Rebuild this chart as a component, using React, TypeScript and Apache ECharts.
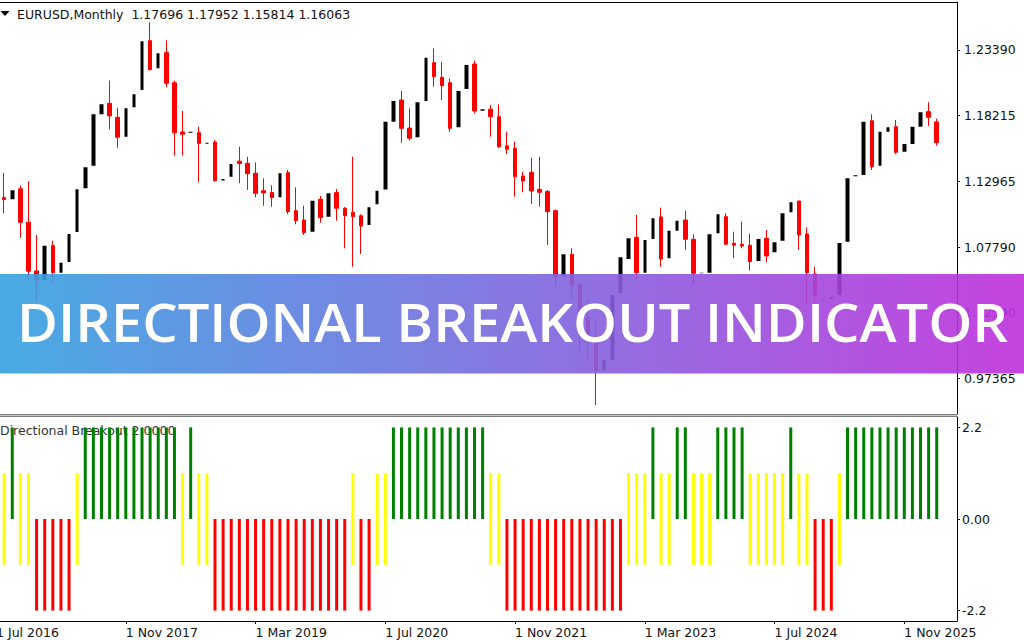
import { useEffect, useRef } from "react";
import * as echarts from "echarts";

const MONTHS = [
  "1 Jul 2016", "1 Aug 2016", "1 Sep 2016", "1 Oct 2016", "1 Nov 2016", "1 Dec 2016",
  "1 Jan 2017", "1 Feb 2017", "1 Mar 2017", "1 Apr 2017", "1 May 2017", "1 Jun 2017", "1 Jul 2017", "1 Aug 2017", "1 Sep 2017", "1 Oct 2017", "1 Nov 2017", "1 Dec 2017",
  "1 Jan 2018", "1 Feb 2018", "1 Mar 2018", "1 Apr 2018", "1 May 2018", "1 Jun 2018", "1 Jul 2018", "1 Aug 2018", "1 Sep 2018", "1 Oct 2018", "1 Nov 2018", "1 Dec 2018",
  "1 Jan 2019", "1 Feb 2019", "1 Mar 2019", "1 Apr 2019", "1 May 2019", "1 Jun 2019", "1 Jul 2019", "1 Aug 2019", "1 Sep 2019", "1 Oct 2019", "1 Nov 2019", "1 Dec 2019",
  "1 Jan 2020", "1 Feb 2020", "1 Mar 2020", "1 Apr 2020", "1 May 2020", "1 Jun 2020", "1 Jul 2020", "1 Aug 2020", "1 Sep 2020", "1 Oct 2020", "1 Nov 2020", "1 Dec 2020",
  "1 Jan 2021", "1 Feb 2021", "1 Mar 2021", "1 Apr 2021", "1 May 2021", "1 Jun 2021", "1 Jul 2021", "1 Aug 2021", "1 Sep 2021", "1 Oct 2021", "1 Nov 2021", "1 Dec 2021",
  "1 Jan 2022", "1 Feb 2022", "1 Mar 2022", "1 Apr 2022", "1 May 2022", "1 Jun 2022", "1 Jul 2022", "1 Aug 2022", "1 Sep 2022", "1 Oct 2022", "1 Nov 2022", "1 Dec 2022",
  "1 Jan 2023", "1 Feb 2023", "1 Mar 2023", "1 Apr 2023", "1 May 2023", "1 Jun 2023", "1 Jul 2023", "1 Aug 2023", "1 Sep 2023", "1 Oct 2023", "1 Nov 2023", "1 Dec 2023",
  "1 Jan 2024", "1 Feb 2024", "1 Mar 2024", "1 Apr 2024", "1 May 2024", "1 Jun 2024", "1 Jul 2024", "1 Aug 2024", "1 Sep 2024", "1 Oct 2024", "1 Nov 2024", "1 Dec 2024",
  "1 Jan 2025", "1 Feb 2025", "1 Mar 2025", "1 Apr 2025", "1 May 2025", "1 Jun 2025", "1 Jul 2025", "1 Aug 2025", "1 Sep 2025", "1 Oct 2025", "1 Nov 2025", "1 Dec 2025",
  "1 Jan 2026", "1 Feb 2026", "1 Mar 2026", "1 Apr 2026", "1 May 2026",
];
// number of empty months before the first candle (Jul 2016)
const LEAD = 1;

const OPEN = [
  1.1172, 1.1157, 1.1240, 1.0975, 1.0590, 1.0517, 1.0790, 1.0576, 1.0660, 1.0898, 1.1244, 1.1423, 1.1830, 1.1917, 1.1806, 1.1653, 1.1885,
  1.2023, 1.2413, 1.2194, 1.2318, 1.2080, 1.1690, 1.1684, 1.1684, 1.1596, 1.1610, 1.1305, 1.1336,
  1.1459, 1.1442, 1.1363, 1.1225, 1.1210, 1.1173, 1.1368, 1.1067, 1.0993, 1.0900, 1.1157, 1.1019,
  1.1210, 1.1086, 1.1054, 1.1027, 1.0953, 1.1117, 1.1235, 1.1771, 1.1943, 1.1721, 1.1648, 1.1935,
  1.2239, 1.2123, 1.2080, 1.1727, 1.2030, 1.2228, 1.1858, 1.1870, 1.1811, 1.1580, 1.1561, 1.1342,
  1.1371, 1.1236, 1.1219, 1.1067, 1.0545, 1.0721, 1.0479, 1.0215, 1.0054, 0.9802, 0.9885, 1.0413,
  1.0684, 1.0856, 1.0576, 1.0843, 1.1017, 1.0690, 1.0908, 1.0993, 1.0840, 1.0571, 1.0576, 1.0888,
  1.1019, 1.0809, 1.0801, 1.0793, 1.0668, 1.0848, 1.0737, 1.0829, 1.1054, 1.1143, 1.0882, 1.0566,
  1.0362, 1.0368, 1.0399, 1.0821, 1.1340, 1.1349, 1.1779, 1.1423, 1.1692, 1.1732, 1.1534, 1.1595,
  1.1732, 1.1851, 1.17696,
];
const HIGH = [
  1.1366, 1.1327, 1.1266, 1.1300, 1.0874, 1.0830, 1.0829, 1.0906, 1.0950, 1.1268, 1.1445, 1.1840, 1.2070, 1.2096, 1.1882, 1.1961, 1.2023,
  1.2537, 1.2558, 1.2476, 1.2416, 1.2097, 1.1856, 1.1791, 1.1732, 1.1815, 1.1625, 1.1500, 1.1486,
  1.1573, 1.1494, 1.1450, 1.1323, 1.1268, 1.1412, 1.1389, 1.1252, 1.1106, 1.1179, 1.1183, 1.1239,
  1.1239, 1.1095, 1.1494, 1.1038, 1.1147, 1.1422, 1.1908, 1.1966, 1.2017, 1.1877, 1.2003, 1.2310,
  1.2352, 1.2247, 1.2114, 1.2150, 1.2266, 1.2254, 1.1909, 1.1904, 1.1909, 1.1692, 1.1613, 1.1374,
  1.1486, 1.1494, 1.1230, 1.1076, 1.0786, 1.0769, 1.0486, 1.0367, 1.0198, 1.0094, 1.0497, 1.0736,
  1.0929, 1.1033, 1.0930, 1.1095, 1.1091, 1.1012, 1.1276, 1.1067, 1.0880, 1.0695, 1.1017, 1.1140,
  1.1046, 1.0900, 1.0980, 1.0885, 1.0895, 1.0914, 1.0948, 1.1202, 1.1214, 1.1145, 1.0935, 1.0623,
  1.0533, 1.0528, 1.0955, 1.1573, 1.1418, 1.1830, 1.1830, 1.1743, 1.1918, 1.1785, 1.1655, 1.1808,
  1.1900, 1.1925, 1.17952,
];
const LOW = [
  1.1046, 1.1123, 1.0851, 1.0518, 1.0346, 1.0340, 1.0493, 1.0494, 1.0570, 1.0838, 1.1118, 1.1312, 1.1662, 1.1711, 1.1565, 1.1554, 1.1717,
  1.1915, 1.2178, 1.2155, 1.2044, 1.1502, 1.1502, 1.1576, 1.1292, 1.1525, 1.1295, 1.1215, 1.1267,
  1.1284, 1.1231, 1.1173, 1.1106, 1.1098, 1.1160, 1.1040, 1.0959, 1.0874, 1.0879, 1.0972, 1.0981,
  1.0988, 1.0769, 1.0623, 1.0724, 1.0767, 1.1096, 1.1185, 1.1696, 1.1605, 1.1622, 1.1603, 1.1925,
  1.2048, 1.1943, 1.1692, 1.1704, 1.1986, 1.1838, 1.1752, 1.1653, 1.1563, 1.1516, 1.1178, 1.1213,
  1.1120, 1.1098, 1.0795, 1.0471, 1.0349, 1.0359, 0.9952, 0.9890, 0.9528, 0.9632, 0.9730, 1.0393,
  1.0483, 1.0524, 1.0516, 1.0788, 1.0623, 1.0662, 1.0834, 1.0756, 1.0478, 1.0448, 1.0517, 1.0724,
  1.0795, 1.0690, 1.0769, 1.0592, 1.0650, 1.0658, 1.0709, 1.0777, 1.0999, 1.0756, 1.0328, 1.0339,
  1.0177, 1.0141, 1.0360, 1.0778, 1.1065, 1.1210, 1.1389, 1.1391, 1.1646, 1.1516, 1.1491, 1.1590,
  1.1700, 1.1737, 1.15814,
];
const CLOSE = [
  1.1155, 1.1228, 1.0975, 1.0588, 1.0517, 1.0790, 1.0576, 1.0655, 1.0882, 1.1236, 1.1410, 1.1830, 1.1909, 1.1817, 1.1648, 1.1877, 1.1988,
  1.2408, 1.2183, 1.2313, 1.2075, 1.1684, 1.1672, 1.1692, 1.1600, 1.1604, 1.1305, 1.1318, 1.1436,
  1.1440, 1.1360, 1.1204, 1.1207, 1.1170, 1.1363, 1.1059, 1.0987, 1.0893, 1.1146, 1.1011, 1.1204,
  1.1086, 1.1027, 1.1019, 1.0946, 1.1094, 1.1225, 1.1771, 1.1935, 1.1719, 1.1640, 1.1925, 1.2278,
  1.2128, 1.2056, 1.1719, 1.2014, 1.2220, 1.1856, 1.1869, 1.1811, 1.1573, 1.1553, 1.1336, 1.1302,
  1.1223, 1.1213, 1.1059, 1.0545, 1.0721, 1.0479, 1.0215, 1.0043, 0.9802, 0.9885, 1.0399, 1.0698,
  1.0848, 1.0576, 1.0835, 1.1006, 1.0684, 1.0908, 1.0988, 1.0840, 1.0571, 1.0576, 1.0880, 1.1038,
  1.0801, 1.0793, 1.0787, 1.0663, 1.0843, 1.0708, 1.0816, 1.1046, 1.1133, 1.0874, 1.0576, 1.0399,
  1.0370, 1.0380, 1.0811, 1.1323, 1.1348, 1.1771, 1.1415, 1.1692, 1.1727, 1.1529, 1.1595, 1.1732,
  1.1846, 1.1806, 1.16063,
];

// Directional Breakout state per month: 1 = up (green), 0 = neutral (yellow), -1 = down (red)
const SIGNAL = [
  0, 1, 0, 0, -1, -1, -1, -1, -1, 0,
  1, 1, 1, 1, 1, 1, 1, 1, 1, 1, 1, 1,
  0, 1, 0, 0,
  -1, -1, -1, -1, -1, -1, -1, -1, -1, -1, -1, -1, -1, -1, -1, -1, -1,
  0, -1, -1, 0, 0,
  1, 1, 1, 1, 1, 1, 1, 1, 1, 1, 1, 1,
  0, 0,
  -1, -1, -1, -1, -1, -1, -1, -1, -1, -1, -1, -1, -1, -1, -1,
  0, 0, 0, 1, 0, 0, 1, 1, 0, 0, 0, 1, 1, 1, 1, 0, 0, 0, 0, 0, 1, 0, 0, -1, -1, -1, 0,
  1, 1, 1, 1, 1, 1, 1, 1, 1, 1, 1, 1,
];
const STRONG_LEVEL = 2.2;
const NEUTRAL_LEVEL = 1.1;

const PRICE_TICKS = [0.97365, 1.0259, 1.0779, 1.12965, 1.18215, 1.2339];
const IND_TICKS = [-2.2, 0, 2.2];
const IND_TICK_LABELS = ["-2.2", "0.00", "2.2"];

const SYMBOL_TITLE = "EURUSD,Monthly";
const IND_TITLE = "Directional Breakout 2.0000";
const BANNER_TEXT = "DIRECTIONAL BREAKOUT INDICATOR";

const FONT = "DejaVu Sans";
// the chart canvas starts this many px left of the page edge, so the
// first (empty) month sits partly off-screen like in the terminal
const SHIFT = 8;

export default function App() {
  const ref = useRef<HTMLDivElement>(null);

  useEffect(() => {
    if (!ref.current) return;
    const chart = echarts.init(ref.current, undefined, { renderer: "svg" });

    const n = MONTHS.length;
    const candles: any[] = [];
    const green: any[] = [];
    const red: any[] = [];
    const yelUp: any[] = [];
    const yelDn: any[] = [];
    for (let k = 0; k < n; k++) {
      const i = k - LEAD;
      if (i >= 0 && i < OPEN.length) {
        candles.push([OPEN[i], CLOSE[i], LOW[i], HIGH[i]]);
        const s = SIGNAL[i];
        green.push(s === 1 ? STRONG_LEVEL : "-");
        red.push(s === -1 ? -STRONG_LEVEL : "-");
        yelUp.push(s === 0 ? NEUTRAL_LEVEL : "-");
        yelDn.push(s === 0 ? -NEUTRAL_LEVEL : "-");
      } else {
        candles.push("-");
        green.push("-");
        red.push("-");
        yelUp.push("-");
        yelDn.push("-");
      }
    }
    const last = OPEN.length - 1;
    const header =
      SYMBOL_TITLE +
      "  " +
      [OPEN[last], HIGH[last], LOW[last], CLOSE[last]].map((v) => v.toFixed(5)).join(" ");

    const barCommon = {
      type: "bar",
      xAxisIndex: 1,
      yAxisIndex: 1,
      barWidth: 3,
      barGap: "-100%",
      silent: true,
    };

    const X = (v: number) => v + SHIFT;
    const plotRight = 957;

    const option: any = {
      animation: false,
      backgroundColor: "#ffffff",
      textStyle: { fontFamily: FONT },
      grid: [
        { left: 0, right: 67, top: 2, height: 412 },
        { left: 0, right: 67, top: 417, height: 204 },
      ],
      xAxis: [
        {
          type: "category",
          gridIndex: 0,
          data: MONTHS,
          position: "top",
          boundaryGap: true,
          axisLine: { show: true, onZero: false, lineStyle: { color: "#000", width: 1 } },
          axisTick: { show: false },
          axisLabel: { show: false },
          splitLine: { show: false },
        },
        {
          type: "category",
          gridIndex: 1,
          data: MONTHS,
          position: "bottom",
          boundaryGap: true,
          axisLine: { show: true, onZero: false, lineStyle: { color: "#000", width: 1 } },
          axisTick: { show: true, interval: 15, alignWithLabel: true, length: 3, lineStyle: { color: "#000" } },
          axisLabel: {
            show: true,
            interval: 15,
            align: "left",
            margin: 5,
            color: "#111",
            fontFamily: FONT,
            fontSize: 12.5,
          },
          splitLine: { show: false },
        },
      ],
      yAxis: [
        {
          type: "value",
          gridIndex: 0,
          position: "right",
          min: 0.9457,
          max: 1.2719,
          axisLine: { show: true, lineStyle: { color: "#000", width: 1 } },
          axisTick: { show: true, length: 3, customValues: PRICE_TICKS, lineStyle: { color: "#000" } },
          axisLabel: {
            show: true,
            customValues: PRICE_TICKS,
            formatter: (v: number) => v.toFixed(5),
            margin: 7,
            color: "#111",
            fontFamily: FONT,
            fontSize: 12.5,
          },
          splitLine: { show: false },
        },
        {
          type: "value",
          gridIndex: 1,
          position: "right",
          min: -2.45,
          max: 2.45,
          axisLine: { show: true, lineStyle: { color: "#000", width: 1 } },
          axisTick: { show: true, length: 3, customValues: IND_TICKS, lineStyle: { color: "#000" } },
          axisLabel: {
            show: true,
            customValues: IND_TICKS,
            formatter: (v: number) => {
              const idx = IND_TICKS.findIndex((t) => Math.abs(t - v) < 1e-6);
              return idx >= 0 ? IND_TICK_LABELS[idx] : "";
            },
            margin: 5,
            color: "#111",
            fontFamily: FONT,
            fontSize: 12.5,
          },
          splitLine: { show: false },
        },
      ],
      series: [
        {
          type: "candlestick",
          xAxisIndex: 0,
          yAxisIndex: 0,
          data: candles,
          barWidth: 4,
          silent: true,
          itemStyle: {
            color: "#000000",
            color0: "#ff0000",
            borderColor: "rgba(0,0,0,0)",
            borderColor0: "#ff0000",
            borderWidth: 1,
          },
          markLine: {
            silent: true,
            symbol: ["none", "none"],
            lineStyle: { opacity: 0, width: 0 },
            label: {
              show: true,
              position: "end",
              distance: 2,
              formatter: () => CLOSE[last].toFixed(5),
              backgroundColor: "#000",
              color: "#fff",
              padding: [1, 6, 1, 6],
              lineHeight: 15,
              fontFamily: FONT,
              fontSize: 12.5,
            },
            data: [{ yAxis: CLOSE[last] }],
          },
        },
        { ...barCommon, name: "up", data: green, itemStyle: { color: "#008000" } },
        { ...barCommon, name: "down", data: red, itemStyle: { color: "#ff0000" } },
        { ...barCommon, name: "flat+", data: yelUp, itemStyle: { color: "#ffff00" } },
        { ...barCommon, name: "flat-", data: yelDn, itemStyle: { color: "#ffff00" } },
      ],
      graphic: [
        {
          type: "polygon",
          z: 1,
          shape: { points: [[X(0.5), 11], [X(9.5), 11], [X(5), 16]] },
          style: { fill: "#000" },
        },
        {
          type: "text",
          z: 1,
          x: X(17),
          y: 14,
          style: {
            text: header,
            fill: "#111",
            font: `12.5px "${FONT}"`,
            verticalAlign: "middle",
          },
        },
        {
          type: "text",
          z: 0,
          x: X(0),
          y: 430,
          style: {
            text: IND_TITLE,
            fill: "#333",
            font: `12.5px "${FONT}"`,
            verticalAlign: "middle",
          },
        },
        {
          type: "rect",
          z: 50,
          shape: { x: X(0), y: 414, width: plotRight, height: 3 },
          style: { fill: "#c8c8c8" },
        },
        {
          type: "line",
          z: 51,
          shape: { x1: X(0), y1: 414.5, x2: X(plotRight), y2: 414.5 },
          style: { stroke: "#7a7a7a", lineWidth: 1 },
        },
        {
          type: "line",
          z: 51,
          shape: { x1: X(0), y1: 416.5, x2: X(plotRight), y2: 416.5 },
          style: { stroke: "#7a7a7a", lineWidth: 1 },
        },
        {
          type: "rect",
          z: 100,
          shape: { x: X(0), y: 274, width: 1024, height: 99.5 },
          style: {
            opacity: 0.9,
            fill: new echarts.graphic.LinearGradient(0, 0, 1, 0, [
              { offset: 0, color: "#35a2e0" },
              { offset: 1, color: "#bf2fdc" },
            ]),
          },
        },
        {
          type: "text",
          z: 101,
          x: X(17),
          y: 322,
          scaleX: 1.057,
          style: {
            text: BANNER_TEXT,
            fill: "#ffffff",
            font: `600 53px "Open Sans"`,
            verticalAlign: "middle",
          },
        },
      ],
    };

    chart.setOption(option);
    return () => chart.dispose();
  }, []);

  return (
    <div
      ref={ref}
      style={{ position: "fixed", left: -SHIFT, top: 0, width: 1024 + SHIFT, height: 640 }}
    />
  );
}
